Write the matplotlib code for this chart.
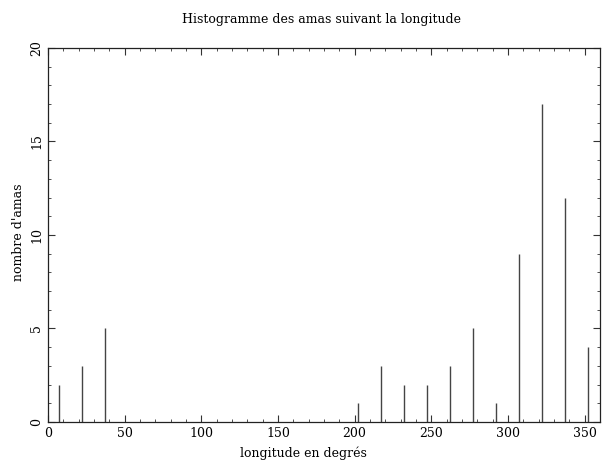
import matplotlib
matplotlib.use('Agg')
import matplotlib.pyplot as plt
from matplotlib.ticker import MultipleLocator

# centre de chaque classe (degres) et nombre d'amas
longitudes = [7.5, 22.5, 37.5, 202.5, 217.5, 232.5, 247.5, 262.5,
              277.5, 292.5, 307.5, 322.5, 337.5, 352.5]
counts = [2, 3, 5, 1, 3, 2, 2, 3, 5, 1, 9, 17, 12, 4]

title = 'Histogramme des amas suivant la longitude'
xlabel = 'longitude en degrés'
ylabel = "nombre d'amas"


def main():
    plt.rcParams['font.family'] = ['DejaVu Serif']
    fig = plt.figure(figsize=(6.06, 4.65), dpi=100)
    ax = fig.add_axes([0.079, 0.0925, 0.911, 0.8045])
    ax.vlines(longitudes, 0, counts, color='#444444', linewidth=1.0)
    ax.set_xlim(0, 360)
    ax.set_ylim(0, 20)
    ax.xaxis.set_major_locator(MultipleLocator(50))
    ax.xaxis.set_minor_locator(MultipleLocator(10))
    ax.yaxis.set_major_locator(MultipleLocator(5))
    ax.yaxis.set_minor_locator(MultipleLocator(1))
    ax.tick_params(which='both', direction='in', top=True, right=True,
                   color='#333333', labelsize=9)
    ax.tick_params(which='major', length=5, width=0.8)
    ax.tick_params(which='minor', length=2.5, width=0.6)
    for lab in ax.get_yticklabels():
        lab.set_rotation(90)
        lab.set_va('center')
    for sp in ax.spines.values():
        sp.set_linewidth(0.9)
        sp.set_color('#222222')
    fig.text(0.53, 0.957, title, ha='center', va='center', fontsize=9)
    fig.text(0.5, 0.025, xlabel, ha='center', va='center', fontsize=9)
    fig.text(0.03, 0.5, ylabel, ha='center', va='center', fontsize=9,
             rotation=90)
    fig.savefig('out.png', dpi=100)


if __name__ == '__main__':
    main()
